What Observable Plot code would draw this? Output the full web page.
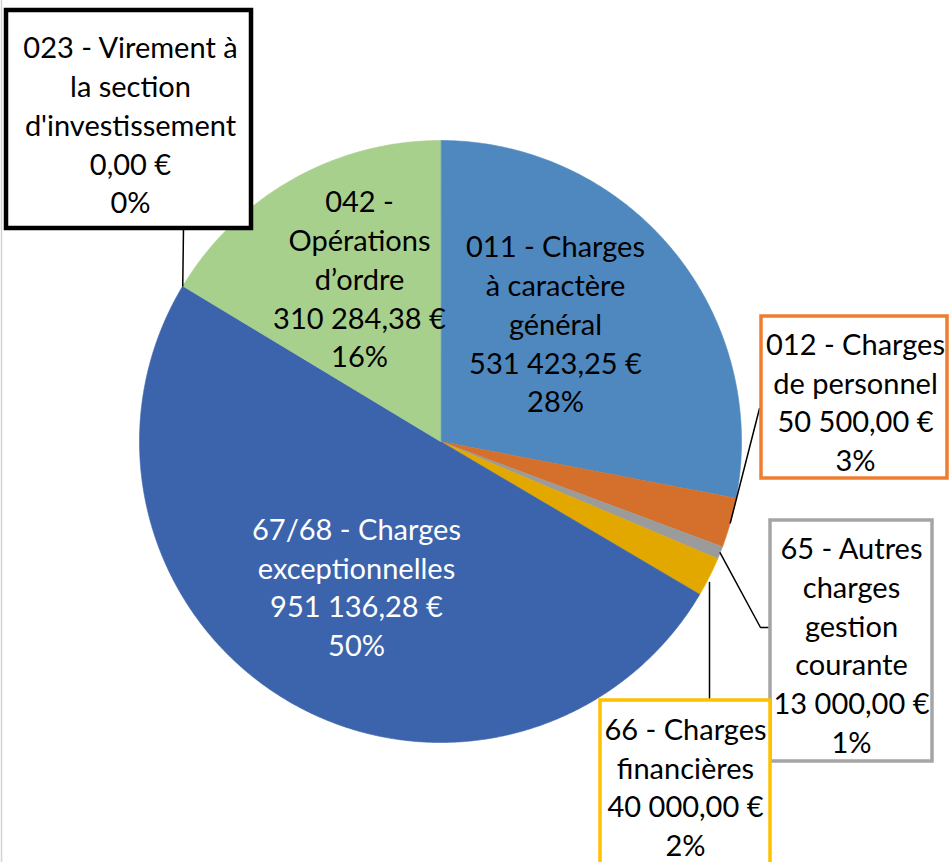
<!DOCTYPE html>
<html><head><meta charset="utf-8">
<script src="https://cdn.jsdelivr.net/npm/d3@7"></script>
<script src="https://cdn.jsdelivr.net/npm/@observablehq/plot@0.6"></script>
<style>body{margin:0;background:#fff} svg{display:block}</style>
</head><body><div id="chart"></div>
<script>
// ---- data ----
const categories = ["011 - Charges à caractère général","012 - Charges de personnel","65 - Autres charges gestion courante","66 - Charges financières","67/68 - Charges exceptionnelles","023 - Virement à la section d'investissement","042 - Opérations d’ordre"];
const amounts = [531423.25, 50500.00, 13000.00, 40000.00, 951136.28, 0.00, 310284.38];
const labelLines = ["011 - Charges\nà caractère\ngénéral","012 - Charges\nde personnel","65 - Autres\ncharges\ngestion\ncourante","66 - Charges\nfinancières","67/68 - Charges\nexceptionnelles","023 - Virement à\nla section\nd'investissement","042 -\nOpérations\nd’ordre"];

// ---- styles ----
const sliceColors = ["#4F88BE","#D4702B","#9B9B9B","#E3A800","#3C64AC","#3C64AC","#A8D08D"];
const boxColors = [null,"#ED7D31","#A5A5A5","#FFC000",null,"#000000",null];
const textColors = ["#000","#000","#000","#000","#fff","#000","#000"];

// ---- layout ----
const W = 949, H = 862;
const cx = 440, cy = 441, R = 301;
const labelPos = [[555,322],[855,400],[851,643],[685,785],[356,585],[130,123],[359,277]];
const boxRects = [null,[761,316,947,478],[770,520,932,761],[600,700,770,880],null,[6,10,251,228],null];
const leaderWays = [null,[[759,408]],[[760,627],[769,627]],[[709,700]],null,[[183,228]],null];

const loc = d3.formatLocale({decimal:",", thousands:"\u00a0", grouping:[3], currency:["","\u00a0€"]});
const eur = loc.format("$,.2f");
const pct = d3.format(".0%");
const total = d3.sum(amounts);

const pie = d3.pie().sort(null).value(d => d)(amounts);
const pt = (a, r) => [cx + r * Math.sin(a), cy - r * Math.cos(a)];

// slice polygons
const slicePts = [];
pie.forEach((p, i) => {
  if (p.value <= 0) return;
  const n = Math.max(4, Math.ceil((p.endAngle - p.startAngle) / 0.005));
  slicePts.push({name: categories[i], x: cx, y: cy});
  for (let k = 0; k <= n; k++) {
    const a = p.startAngle + (p.endAngle - p.startAngle) * k / n;
    const [x, y] = pt(a, R);
    slicePts.push({name: categories[i], x, y});
  }
});

// leader lines
const leaderPts = [];
pie.forEach((p, i) => {
  if (!leaderWays[i]) return;
  const mid = (p.startAngle + p.endAngle) / 2;
  let [sx, sy] = pt(mid, R);
  if (i === 3) sx = leaderWays[i][0][0], sy = cy + Math.sqrt(R*R - (sx-cx)**2) + 6;
  leaderPts.push({name: categories[i], x: sx, y: sy});
  leaderWays[i].forEach(([x, y]) => leaderPts.push({name: categories[i], x, y}));
});

const labels = categories.map((c, i) => ({
  name: c,
  text: labelLines[i] + "\n" + eur(amounts[i]) + "\n" + pct(amounts[i] / total),
  x: labelPos[i][0], y: labelPos[i][1], fill: textColors[i]
}));

const marks = [
  Plot.ruleX([1], {stroke: "#d4d4d4", strokeWidth: 1.5}),
  Plot.line(slicePts, {x: "x", y: "y", z: "name", fill: "name", stroke: "name", strokeWidth: 0.6, curve: "linear-closed"}),
  Plot.line(leaderPts, {x: "x", y: "y", z: "name", stroke: "#000", strokeWidth: 1.5})
];
boxRects.forEach((b, i) => {
  if (!b) return;
  marks.push(Plot.rect([b], {x1: d => d[0], y1: d => d[1], x2: d => d[2], y2: d => d[3], fill: "#fff", stroke: boxColors[i], strokeWidth: i === 5 ? 4.5 : 3.5}));
});
labels.forEach(l => {
  marks.push(Plot.text([l], {x: "x", y: "y", text: "text", fill: l.fill, fontSize: 29, lineHeight: 1.335, fontFamily: "Lato"}));
});

const chart = Plot.plot({
  width: W, height: H,
  margin: 0,
  x: {domain: [0, W], range: [0, W], axis: null},
  y: {domain: [0, H], range: [0, H], axis: null},
  color: {domain: categories, range: sliceColors},
  style: {background: "#fff", fontFamily: "Lato"},
  marks
});
document.getElementById("chart").appendChild(chart);
</script>
</body></html>
